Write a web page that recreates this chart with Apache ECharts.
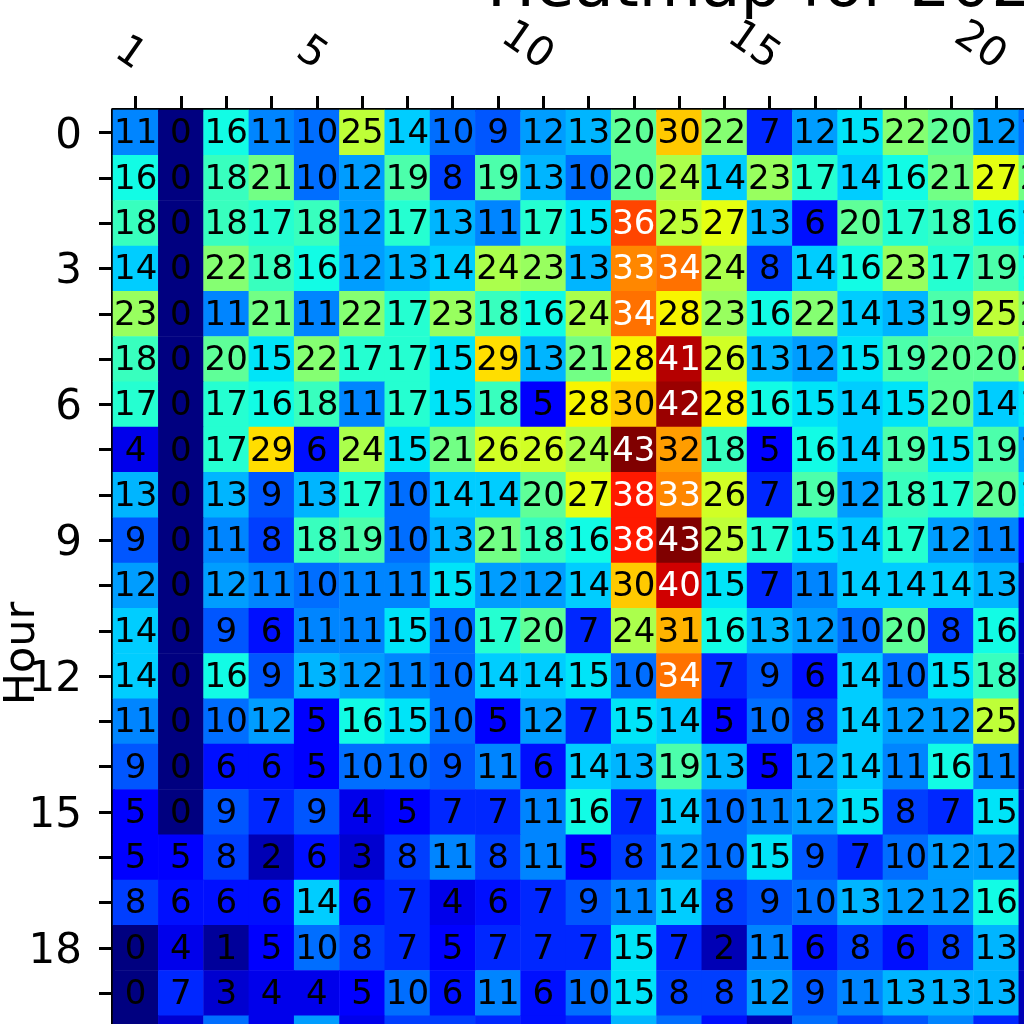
<!DOCTYPE html>
<html>
<head>
<meta charset="utf-8">
<title>Heatmap</title>
<script src="https://cdn.jsdelivr.net/npm/echarts@6/dist/echarts.min.js"></script>
<style>
  html, body { margin: 0; padding: 0; width: 1024px; height: 1024px; background: #fff; overflow: hidden; }
  /* the figure is larger than the window and gets cut off on purpose */
  #main { width: 1600px; height: 1300px; }
</style>
</head>
<body>
<div id="main"></div>
<script>
// the figure runs off the window, only days 1-21 and hours 0-20 can be read
const days = ['1','2','3','4','5','6','7','8','9','10','11','12','13','14','15','16','17','18','19','20','21','22','23','24','25','26','27','28','29','30','31'];
const hours = ['0','1','2','3','4','5','6','7','8','9','10','11','12','13','14','15','16','17','18','19','20','21','22','23'];
const xTickLabels = ['1','5','10','15','20','25','30'];
const yTickLabels = ['0','3','6','9','12','15','18','21'];

// one row per hour, one value per day
const counts = [
  [11,0,16,11,10,25,14,10,9,12,13,20,30,22,7,12,15,22,20,12,10],
  [16,0,18,21,10,12,19,8,19,13,10,20,24,14,23,17,14,16,21,27,21],
  [18,0,18,17,18,12,17,13,11,17,15,36,25,27,13,6,20,17,18,16,15],
  [14,0,22,18,16,12,13,14,24,23,13,33,34,24,8,14,16,23,17,19,16],
  [23,0,11,21,11,22,17,23,18,16,24,34,28,23,16,22,14,13,19,25,22],
  [18,0,20,15,22,17,17,15,29,13,21,28,41,26,13,12,15,19,20,20,24],
  [17,0,17,16,18,11,17,15,18,5,28,30,42,28,16,15,14,15,20,14,15],
  [4,0,17,29,6,24,15,21,26,26,24,43,32,18,5,16,14,19,15,19,12],
  [13,0,13,9,13,17,10,14,14,20,27,38,33,26,7,19,12,18,17,20,15],
  [9,0,11,8,18,19,10,13,21,18,16,38,43,25,17,15,14,17,12,11,5],
  [12,0,12,11,10,11,11,15,12,12,14,30,40,15,7,11,14,14,14,13,2],
  [14,0,9,6,11,11,15,10,17,20,7,24,31,16,13,12,10,20,8,16,2],
  [14,0,16,9,13,12,11,10,14,14,15,10,34,7,9,6,14,10,15,18,2],
  [11,0,10,12,5,16,15,10,5,12,7,15,14,5,10,8,14,12,12,25,2],
  [9,0,6,6,5,10,10,9,11,6,14,13,19,13,5,12,14,11,16,11,2],
  [5,0,9,7,9,4,5,7,7,11,16,7,14,10,11,12,15,8,7,15,2],
  [5,5,8,2,6,3,8,11,8,11,5,8,12,10,15,9,7,10,12,12,2],
  [8,6,6,6,14,6,7,4,6,7,9,11,14,8,9,10,13,12,12,16,2],
  [0,4,1,5,10,8,7,5,7,7,7,15,7,2,11,6,8,6,8,13,2],
  [0,7,3,4,4,5,10,6,11,6,10,15,8,8,12,9,11,13,13,13,2],
  [0,3,10,4,12,4,8,8,7,6,7,13,10,6,2,10,8,9,11,7,2]
];

// jet colormap breakpoints, one stop per integer count so the kinks land right
const jetR = [[0,0],[.35,0],[.66,1],[.89,1],[1,.5]];
const jetG = [[0,0],[.125,0],[.375,1],[.64,1],[.91,0],[1,0]];
const jetB = [[0,.5],[.11,1],[.34,1],[.65,0],[1,0]];
const maxCount = 43;

function channel(pts, t) {
  for (let i = 1; i < pts.length; i++) {
    if (t <= pts[i][0]) {
      const a = pts[i - 1], b = pts[i];
      return Math.round(255 * (a[1] + (b[1] - a[1]) * (t - a[0]) / (b[0] - a[0])));
    }
  }
  return 0;
}
const jet = [];
for (let i = 0; i <= maxCount; i++) {
  const t = i / maxCount;
  jet.push('rgb(' + channel(jetR, t) + ',' + channel(jetG, t) + ',' + channel(jetB, t) + ')');
}

const cells = [];
counts.forEach(function (row, h) {
  row.forEach(function (v, d) {
    cells.push({
      value: [d, h, v],
      label: { color: v >= 33 ? '#fff' : '#000' }
    });
  });
});

const chart = echarts.init(document.getElementById('main'), null, { renderer: 'canvas' });
chart.setOption({
  animation: false,
  backgroundColor: '#fff',
  textStyle: { fontFamily: 'DejaVu Sans' },
  title: {
    text: 'Heatmap for 2021',
    left: 482,
    top: -48,
    textStyle: { fontFamily: 'DejaVu Sans', fontSize: 64, fontWeight: 'normal', color: '#000' }
  },
  grid: { left: 113, top: 110, width: 1404, height: 1087, outerBoundsMode: 'none' },
  xAxis: {
    type: 'category',
    position: 'top',
    data: days,
    axisLine: { show: true, lineStyle: { color: '#000', width: 4 } },
    axisTick: { show: true, interval: 0, alignWithLabel: true, length: 14, lineStyle: { color: '#000', width: 3 } },
    axisLabel: {
      rotate: 35,
      margin: 52,
      fontSize: 41,
      color: '#000',
      align: 'right',
      verticalAlign: 'middle',
      padding: [0, -6, 0, 0],
      interval: function (i, v) { return xTickLabels.indexOf(v) >= 0; }
    },
    splitLine: { show: false }
  },
  yAxis: {
    type: 'category',
    inverse: true,
    data: hours,
    name: 'Hour',
    nameLocation: 'middle',
    nameGap: 69,
    nameMoveOverlap: false,
    nameTextStyle: { fontSize: 43, color: '#000' },
    axisLine: { show: true, lineStyle: { color: '#000', width: 4 } },
    axisTick: { show: true, interval: 0, alignWithLabel: true, length: 14, lineStyle: { color: '#000', width: 3 } },
    axisLabel: {
      margin: 31,
      fontSize: 42,
      color: '#000',
      verticalAlign: 'top',
      lineHeight: 8,
      interval: function (i, v) { return yTickLabels.indexOf(v) >= 0; }
    },
    splitLine: { show: false }
  },
  visualMap: {
    show: false,
    min: 0,
    max: maxCount,
    dimension: 2,
    inRange: { color: jet }
  },
  series: [{
    type: 'heatmap',
    data: cells,
    label: {
      show: true,
      fontSize: 34,
      fontFamily: 'DejaVu Sans',
      offset: [0, 2],
      formatter: function (p) { return p.value[2]; }
    },
    itemStyle: { borderWidth: 0 },
    emphasis: { disabled: true }
  }]
});
</script>
</body>
</html>
